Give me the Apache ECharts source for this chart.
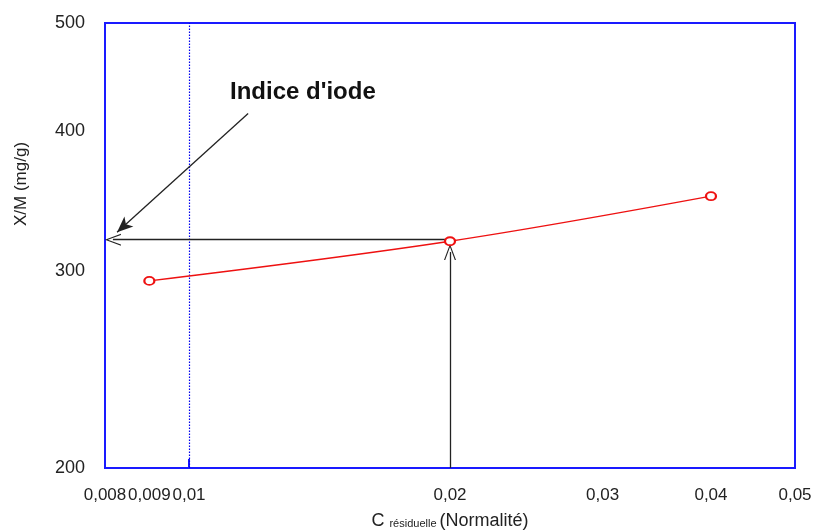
<!DOCTYPE html>
<html>
<head>
<meta charset="utf-8">
<script src="https://cdn.jsdelivr.net/npm/echarts@6/dist/echarts.min.js"></script>
<style>html,body{margin:0;padding:0;background:#fff}#c{width:820px;height:531px}</style>
</head>
<body>
<div id="c"></div>
<script>
// Data
const concentration = [0.009, 0.02, 0.04];          // C résiduelle (N)
const adsorbed = [294, 319, 350];                     // X/M (mg/g)
const xTickLabels = [0.008, 0.009, 0.01, 0.02, 0.03, 0.04, 0.05];
const yTickLabels = [200, 300, 400, 500];
const iodineIndex = 320;        // value read at C = 0.02
const readC = 0.02;
const arrowFrom = [0.0117, 415];
const arrowTo = [0.00826, 325];

const fmt = v => String(Number(Number(v).toPrecision(6))).replace('.', ',');
const chevron = 'path://M0,0 L6,14 L4.8,14 L0,2.6 L-4.8,14 L-6,14 Z';
const FONT = '"Liberation Sans", Arial, sans-serif';

const chart = echarts.init(document.getElementById('c'), null, {renderer: 'canvas'});
chart.setOption({
  animation: false,
  backgroundColor: '#fff',
  grid: {left: 105, right: 25, top: 23, bottom: 63, containLabel: false, outerBoundsMode: 'none',
         show: true, borderColor: '#1a1aff', borderWidth: 2, backgroundColor: 'transparent'},
  xAxis: {
    type: 'log', logBase: 10, min: 0.008, max: 0.05,
    axisLine: {show: true, lineStyle: {color: '#1a1aff', width: 2}},
    axisTick: {show: true, inside: true, length: 9, customValues: [0.01], lineStyle: {color: '#1a1aff', width: 2}},
    axisLabel: {customValues: xTickLabels, formatter: v => fmt(v), color: '#222', fontSize: 17, fontFamily: FONT, margin: 19,
                interval: 0, hideOverlap: false, showMinLabel: true, showMaxLabel: true},
    splitLine: {show: false},
    minorTick: {show: false}, minorSplitLine: {show: false},
    name: '{a|C }{b|résiduelle }{a|(Normalité)}',
    nameLocation: 'middle', nameGap: 44,
    nameTextStyle: {rich: {a: {fontSize: 18, color: '#222', fontFamily: FONT}, b: {fontSize: 11, color: '#222', fontFamily: FONT, padding: [5, 0, 0, 0]}}}
  },
  yAxis: {
    type: 'log', logBase: 10, min: 200, max: 500,
    axisLine: {show: true, lineStyle: {color: '#1a1aff', width: 2}},
    axisTick: {show: false},
    axisLabel: {customValues: yTickLabels, formatter: v => fmt(v), color: '#222', fontSize: 18, fontFamily: FONT, margin: 20,
                showMinLabel: true, showMaxLabel: true},
    splitLine: {show: false},
    minorTick: {show: false}, minorSplitLine: {show: false}
  },
  series: [{
    type: 'line',
    data: concentration.map((c, i) => [c, adsorbed[i]]),
    smooth: 0.35,
    symbol: 'emptyCircle', symbolSize: [10, 8],
    lineStyle: {color: '#ee1111', width: 1.3},
    itemStyle: {color: '#ee1111', borderWidth: 1.5},
    z: 5,
    markLine: {
      silent: true, animation: false,
      label: {show: false},
      data: [
        [{coord: [0.01, 200], symbol: 'none', lineStyle: {color: '#0000ee', type: [1.5, 1.5], width: 1.2}},
         {coord: [0.01, 500], symbol: 'none'}],
        [{coord: [readC, iodineIndex], symbol: 'none', lineStyle: {color: '#222', type: 'solid', width: 1.3}},
         {coord: [0.00817, iodineIndex], symbol: chevron, symbolSize: [12, 16], symbolRotate: 90}],
        [{coord: [readC, 200], symbol: 'none', lineStyle: {color: '#222', type: 'solid', width: 1.3}},
         {coord: [readC, 312], symbol: chevron, symbolSize: [12, 16]}],
        [{coord: arrowFrom, symbol: 'none', lineStyle: {color: '#222', type: 'solid', width: 1.3}},
         {coord: arrowTo, symbol: 'arrow', symbolSize: [10, 16]}]
      ]
    }
  }],
  graphic: [
    {type: 'text', left: 230, top: 80, style: {text: "Indice d'iode", font: 'bold 24px ' + FONT, fill: '#111'}},
    {type: 'text', x: 13, y: 226, rotation: Math.PI / 2, style: {text: 'X/M (mg/g)', font: '17px ' + FONT, fill: '#222'}}
  ]
});
</script>
</body>
</html>
